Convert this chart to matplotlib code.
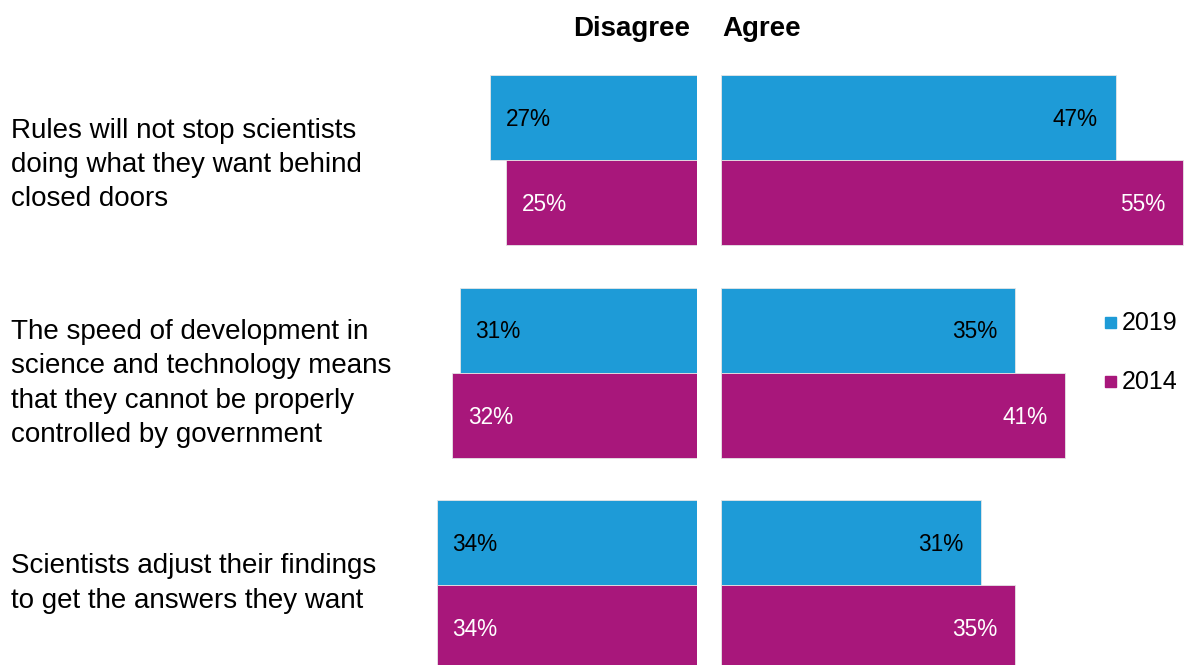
import matplotlib
matplotlib.use("Agg")
import matplotlib.pyplot as plt

plt.rcParams['font.family'] = ['Liberation Sans', 'DejaVu Sans']

statements = [
    "Rules will not stop scientists\ndoing what they want behind\nclosed doors",
    "The speed of development in\nscience and technology means\nthat they cannot be properly\ncontrolled by government",
    "Scientists adjust their findings\nto get the answers they want",
]
years = ["2019", "2014"]
disagree_2019 = [27, 31, 34]
disagree_2014 = [25, 32, 34]
agree_2019 = [47, 35, 31]
agree_2014 = [55, 41, 35]

BLUE = '#1e9bd7'
MAGENTA = '#a8177b'
W, H = 1184, 665

fig = plt.figure(figsize=(W / 100, H / 100), dpi=100)
ax_l = fig.add_axes([360 / W, 0, 337 / W, 1])
ax_r = fig.add_axes([721 / W, 0, 463 / W, 1])

bar_h = 85
centers = [160 + 212.5 * i for i in range(len(statements))]
y19 = [c - bar_h / 2 for c in centers]
y14 = [c + bar_h / 2 for c in centers]

for ax in (ax_l, ax_r):
    ax.set_ylim(H, 0)
    ax.axis('off')
ax_l.set_xlim(337 / 7.66, 0)
ax_r.set_xlim(0, 463 / 8.4)

kw = dict(height=bar_h, edgecolor='#e6e6e6', linewidth=0.6)
ax_l.barh(y19, disagree_2019, color=BLUE, **kw)
ax_l.barh(y14, disagree_2014, color=MAGENTA, **kw)
ax_r.barh(y19, agree_2019, color=BLUE, **kw)
ax_r.barh(y14, agree_2014, color=MAGENTA, **kw)

fs = 16.3
for vals, ys, col in ((disagree_2019, y19, 'black'), (disagree_2014, y14, 'white')):
    for v, y in zip(vals, ys):
        ax_l.annotate(f"{v}%", (v, y), xytext=(16, -2), textcoords='offset pixels',
                      ha='left', va='center', fontsize=fs, color=col)
for vals, ys, col in ((agree_2019, y19, 'black'), (agree_2014, y14, 'white')):
    for v, y in zip(vals, ys):
        ax_r.annotate(f"{v}%", (v, y), xytext=(-18, -2), textcoords='offset pixels',
                      ha='right', va='center', fontsize=fs, color=col)

label_shift = [5, 11, -1.5]
for s, c, d in zip(statements, centers, label_shift):
    fig.text(11 / W, 1 - (c + d) / H, s, ha='left', va='center',
             fontsize=20, linespacing=1.42)

fig.text(690 / W, 1 - 29 / H, "Disagree", ha='right', va='center',
         fontsize=20, fontweight='bold')
fig.text(722 / W, 1 - 29 / H, "Agree", ha='left', va='center',
         fontsize=20, fontweight='bold')

# legend
for yr, col, yc in ((years[0], BLUE, 323), (years[1], MAGENTA, 382)):
    fig.patches.append(plt.Rectangle((1105 / W, 1 - (yc + 5) / H), 11 / W, 11 / H,
                                     transform=fig.transFigure, color=col))
    fig.text(1122 / W, 1 - yc / H, yr, ha='left', va='center', fontsize=18)

fig.savefig("out.png", dpi=100)
